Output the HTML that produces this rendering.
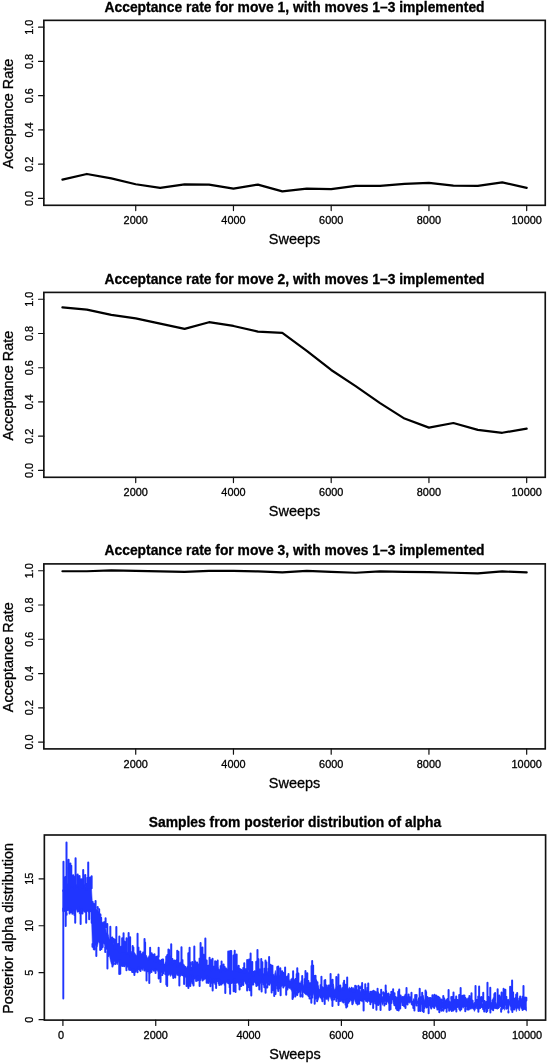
<!DOCTYPE html>
<html><head><meta charset="utf-8"><style>
html,body{margin:0;padding:0;background:#fff;}
svg{display:block;will-change:transform;}
text{font-family:"Liberation Sans", sans-serif;fill:#000;stroke:#000;stroke-width:0.3px;}
</style></head><body>
<svg width="547" height="1063" viewBox="0 0 547 1063">

<g>
<rect width="547" height="1063" fill="#fff"/>
<text x="294.55" y="11.85" font-weight="bold" font-size="13.85" text-anchor="middle">Acceptance rate for move 1, with moves 1–3 implemented</text>
<rect x="43.85" y="20.35" width="501.4" height="184.95" fill="none" stroke="#111" stroke-width="1.65"/>
<path d="M38.55 198.45H43.85M38.55 164.2H43.85M38.55 129.95H43.85M38.55 95.7H43.85M38.55 61.45H43.85M38.55 27.2H43.85M135.72 205.3V210.6M233.46 205.3V210.6M331.2 205.3V210.6M428.94 205.3V210.6M526.68 205.3V210.6" stroke="#111" stroke-width="1.2" fill="none" stroke-linecap="round"/>
<text transform="translate(33.2 198.45) rotate(-90)" font-size="10.9" text-anchor="middle">0.0</text>
<text transform="translate(33.2 164.2) rotate(-90)" font-size="10.9" text-anchor="middle">0.2</text>
<text transform="translate(33.2 129.95) rotate(-90)" font-size="10.9" text-anchor="middle">0.4</text>
<text transform="translate(33.2 95.7) rotate(-90)" font-size="10.9" text-anchor="middle">0.6</text>
<text transform="translate(33.2 61.45) rotate(-90)" font-size="10.9" text-anchor="middle">0.8</text>
<text transform="translate(33.2 27.2) rotate(-90)" font-size="10.9" text-anchor="middle">1.0</text>
<text x="135.72" y="224.2" font-size="10.9" text-anchor="middle">2000</text>
<text x="233.46" y="224.2" font-size="10.9" text-anchor="middle">4000</text>
<text x="331.2" y="224.2" font-size="10.9" text-anchor="middle">6000</text>
<text x="428.94" y="224.2" font-size="10.9" text-anchor="middle">8000</text>
<text x="526.68" y="224.2" font-size="10.9" text-anchor="middle">10000</text>
<text x="294.55" y="244.2" font-size="14.45" text-anchor="middle">Sweeps</text>
<text transform="translate(12.8 113.62) rotate(-90)" font-size="14.45" text-anchor="middle">Acceptance Rate</text>
<polyline points="62.42,179.61 86.86,173.96 111.29,178.41 135.72,184.24 160.16,187.83 184.59,184.41 209.03,184.58 233.46,188.69 257.9,184.58 282.33,191.43 306.77,188.69 331.2,189.2 355.64,185.95 380.07,185.95 404.51,183.89 428.94,182.87 453.38,185.61 477.81,185.95 502.24,182.35 526.68,187.83" fill="none" stroke="#000" stroke-width="2.2" stroke-linejoin="round" stroke-linecap="round"/>
<text x="294.55" y="283.9" font-weight="bold" font-size="13.85" text-anchor="middle">Acceptance rate for move 2, with moves 1–3 implemented</text>
<rect x="43.85" y="292.4" width="501.4" height="184.9" fill="none" stroke="#111" stroke-width="1.65"/>
<path d="M38.55 470.45H43.85M38.55 436.21H43.85M38.55 401.97H43.85M38.55 367.73H43.85M38.55 333.49H43.85M38.55 299.25H43.85M135.72 477.3V482.6M233.46 477.3V482.6M331.2 477.3V482.6M428.94 477.3V482.6M526.68 477.3V482.6" stroke="#111" stroke-width="1.2" fill="none" stroke-linecap="round"/>
<text transform="translate(33.2 470.45) rotate(-90)" font-size="10.9" text-anchor="middle">0.0</text>
<text transform="translate(33.2 436.21) rotate(-90)" font-size="10.9" text-anchor="middle">0.2</text>
<text transform="translate(33.2 401.97) rotate(-90)" font-size="10.9" text-anchor="middle">0.4</text>
<text transform="translate(33.2 367.73) rotate(-90)" font-size="10.9" text-anchor="middle">0.6</text>
<text transform="translate(33.2 333.49) rotate(-90)" font-size="10.9" text-anchor="middle">0.8</text>
<text transform="translate(33.2 299.25) rotate(-90)" font-size="10.9" text-anchor="middle">1.0</text>
<text x="135.72" y="496.2" font-size="10.9" text-anchor="middle">2000</text>
<text x="233.46" y="496.2" font-size="10.9" text-anchor="middle">4000</text>
<text x="331.2" y="496.2" font-size="10.9" text-anchor="middle">6000</text>
<text x="428.94" y="496.2" font-size="10.9" text-anchor="middle">8000</text>
<text x="526.68" y="496.2" font-size="10.9" text-anchor="middle">10000</text>
<text x="294.55" y="516.2" font-size="14.45" text-anchor="middle">Sweeps</text>
<text transform="translate(12.8 385.65) rotate(-90)" font-size="14.45" text-anchor="middle">Acceptance Rate</text>
<polyline points="62.42,307.47 86.86,309.69 111.29,314.83 135.72,318.42 160.16,323.56 184.59,328.87 209.03,322.19 233.46,325.96 257.9,331.61 282.33,332.8 306.77,350.78 331.2,369.96 355.64,386.05 380.07,403.17 404.51,418.58 428.94,427.65 453.38,423.03 477.81,429.88 502.24,432.79 526.68,428.68" fill="none" stroke="#000" stroke-width="2.2" stroke-linejoin="round" stroke-linecap="round"/>
<text x="294.55" y="555.4" font-weight="bold" font-size="13.85" text-anchor="middle">Acceptance rate for move 3, with moves 1–3 implemented</text>
<rect x="43.85" y="563.9" width="501.4" height="185" fill="none" stroke="#111" stroke-width="1.65"/>
<path d="M38.55 742.05H43.85M38.55 707.79H43.85M38.55 673.53H43.85M38.55 639.27H43.85M38.55 605.01H43.85M38.55 570.75H43.85M135.72 748.9V754.2M233.46 748.9V754.2M331.2 748.9V754.2M428.94 748.9V754.2M526.68 748.9V754.2" stroke="#111" stroke-width="1.2" fill="none" stroke-linecap="round"/>
<text transform="translate(33.2 742.05) rotate(-90)" font-size="10.9" text-anchor="middle">0.0</text>
<text transform="translate(33.2 707.79) rotate(-90)" font-size="10.9" text-anchor="middle">0.2</text>
<text transform="translate(33.2 673.53) rotate(-90)" font-size="10.9" text-anchor="middle">0.4</text>
<text transform="translate(33.2 639.27) rotate(-90)" font-size="10.9" text-anchor="middle">0.6</text>
<text transform="translate(33.2 605.01) rotate(-90)" font-size="10.9" text-anchor="middle">0.8</text>
<text transform="translate(33.2 570.75) rotate(-90)" font-size="10.9" text-anchor="middle">1.0</text>
<text x="135.72" y="767.8" font-size="10.9" text-anchor="middle">2000</text>
<text x="233.46" y="767.8" font-size="10.9" text-anchor="middle">4000</text>
<text x="331.2" y="767.8" font-size="10.9" text-anchor="middle">6000</text>
<text x="428.94" y="767.8" font-size="10.9" text-anchor="middle">8000</text>
<text x="526.68" y="767.8" font-size="10.9" text-anchor="middle">10000</text>
<text x="294.55" y="787.8" font-size="14.45" text-anchor="middle">Sweeps</text>
<text transform="translate(12.8 657.2) rotate(-90)" font-size="14.45" text-anchor="middle">Acceptance Rate</text>
<polyline points="62.42,571.25 86.86,571.25 111.29,570.45 135.72,570.95 160.16,571.45 184.59,571.95 209.03,570.95 233.46,570.95 257.9,571.45 282.33,572.45 306.77,570.95 331.2,571.95 355.64,572.75 380.07,571.45 404.51,571.95 428.94,572.15 453.38,572.75 477.81,573.45 502.24,571.45 526.68,572.45" fill="none" stroke="#000" stroke-width="2.2" stroke-linejoin="round" stroke-linecap="round"/>
<text x="294.98" y="826.5" font-weight="bold" font-size="13.85" text-anchor="middle">Samples from posterior distribution of alpha</text>
<rect x="44.35" y="835.0" width="501.25" height="185.1" fill="none" stroke="#111" stroke-width="1.65"/>
<path d="M39.05 1019.65H44.35M39.05 972.7H44.35M39.05 925.75H44.35M39.05 878.8H44.35M62.91 1020.1V1025.4M155.74 1020.1V1025.4M248.56 1020.1V1025.4M341.39 1020.1V1025.4M434.21 1020.1V1025.4M527.04 1020.1V1025.4" stroke="#111" stroke-width="1.2" fill="none" stroke-linecap="round"/>
<text transform="translate(33.2 1019.65) rotate(-90)" font-size="10.9" text-anchor="middle">0</text>
<text transform="translate(33.2 972.7) rotate(-90)" font-size="10.9" text-anchor="middle">5</text>
<text transform="translate(33.2 925.75) rotate(-90)" font-size="10.9" text-anchor="middle">10</text>
<text transform="translate(33.2 878.8) rotate(-90)" font-size="10.9" text-anchor="middle">15</text>
<text x="60.91" y="1039" font-size="10.9" text-anchor="middle">0</text>
<text x="155.74" y="1039" font-size="10.9" text-anchor="middle">2000</text>
<text x="248.56" y="1039" font-size="10.9" text-anchor="middle">4000</text>
<text x="341.39" y="1039" font-size="10.9" text-anchor="middle">6000</text>
<text x="434.21" y="1039" font-size="10.9" text-anchor="middle">8000</text>
<text x="527.04" y="1039" font-size="10.9" text-anchor="middle">10000</text>
<text x="294.98" y="1059" font-size="14.45" text-anchor="middle">Sweeps</text>
<text transform="translate(12.8 928.35) rotate(-90)" font-size="14.45" text-anchor="middle">Posterior alpha distribution</text>
<path d="M63.40 909.5L63.40 890.3L64.40 885.6L65.40 885.1L66.40 886.0L67.40 886.1L68.40 887.4L69.40 886.4L70.40 884.1L71.40 882.1L72.40 885.8L73.40 884.3L74.40 887.5L75.40 883.3L76.40 885.6L77.40 884.2L78.40 884.0L79.40 887.9L80.40 885.6L81.40 885.0L82.40 886.5L83.40 884.1L84.40 884.8L85.40 884.3L86.40 888.4L87.40 885.8L88.40 886.3L89.40 887.1L90.40 885.0L91.40 887.2L92.40 904.4L93.40 907.7L94.40 907.4L95.40 906.3L96.40 909.7L97.40 907.3L98.40 913.0L99.40 912.5L100.40 915.1L101.40 918.8L102.40 923.4L103.40 921.7L104.40 924.1L105.40 926.0L106.40 933.1L107.40 932.9L108.40 934.9L109.40 939.6L110.40 939.0L111.40 937.1L112.40 940.9L113.40 941.2L114.40 947.5L115.40 943.5L116.40 947.5L117.40 947.6L118.40 949.0L119.40 951.1L120.40 951.7L121.40 950.9L122.40 950.1L123.40 951.0L124.40 950.5L125.40 950.7L126.40 952.4L127.40 952.0L128.40 953.0L129.40 952.0L130.40 955.5L131.40 951.6L132.40 951.5L133.40 954.9L134.40 952.5L135.40 954.1L136.40 955.7L137.40 954.3L138.40 954.2L139.40 956.5L140.40 955.8L141.40 954.7L142.40 954.0L143.40 955.5L144.40 953.8L145.40 955.3L146.40 955.3L147.40 957.7L148.40 958.7L149.40 956.8L150.40 957.4L151.40 956.6L152.40 956.5L153.40 958.2L154.40 960.1L155.40 960.2L156.40 960.5L157.40 959.4L158.40 955.7L159.40 961.6L160.40 962.4L161.40 961.9L162.40 962.1L163.40 962.5L164.40 965.2L165.40 961.7L166.40 963.8L167.40 962.8L168.40 962.8L169.40 961.7L170.40 961.5L171.40 960.5L172.40 963.3L173.40 962.1L174.40 960.9L175.40 961.7L176.40 961.3L177.40 965.8L178.40 963.1L179.40 963.8L180.40 961.9L181.40 962.4L182.40 965.8L183.40 963.9L184.40 964.8L185.40 967.5L186.40 968.1L187.40 966.1L188.40 965.9L189.40 965.7L190.40 965.1L191.40 968.9L192.40 964.0L193.40 965.9L194.40 963.2L195.40 964.4L196.40 967.1L197.40 967.2L198.40 967.1L199.40 966.1L200.40 965.6L201.40 965.9L202.40 966.2L203.40 968.6L204.40 969.2L205.40 967.7L206.40 966.2L207.40 965.7L208.40 967.7L209.40 966.9L210.40 964.5L211.40 969.5L212.40 967.4L213.40 967.0L214.40 966.2L215.40 966.3L216.40 969.1L217.40 966.3L218.40 968.0L219.40 968.9L220.40 970.8L221.40 969.0L222.40 968.0L223.40 967.5L224.40 969.6L225.40 969.9L226.40 967.7L227.40 969.3L228.40 968.3L229.40 966.0L230.40 967.0L231.40 969.9L232.40 971.0L233.40 969.9L234.40 968.5L235.40 967.8L236.40 969.9L237.40 969.7L238.40 966.8L239.40 970.5L240.40 968.5L241.40 970.8L242.40 970.7L243.40 971.1L244.40 971.8L245.40 971.3L246.40 968.7L247.40 968.9L248.40 972.2L249.40 971.5L250.40 968.4L251.40 967.9L252.40 972.5L253.40 974.7L254.40 972.7L255.40 971.1L256.40 972.1L257.40 967.5L258.40 970.3L259.40 973.6L260.40 973.5L261.40 969.0L262.40 974.2L263.40 973.4L264.40 974.1L265.40 972.5L266.40 972.9L267.40 971.4L268.40 973.7L269.40 974.7L270.40 972.0L271.40 974.1L272.40 972.9L273.40 975.4L274.40 975.5L275.40 970.5L276.40 975.2L277.40 976.4L278.40 974.3L279.40 975.2L280.40 975.6L281.40 974.4L282.40 976.3L283.40 979.3L284.40 977.9L285.40 979.9L286.40 979.4L287.40 980.1L288.40 978.7L289.40 980.1L290.40 982.3L291.40 981.8L292.40 980.4L293.40 979.1L294.40 979.1L295.40 981.3L296.40 981.9L297.40 978.7L298.40 982.2L299.40 982.8L300.40 983.0L301.40 982.1L302.40 986.8L303.40 984.9L304.40 981.8L305.40 983.1L306.40 985.8L307.40 985.7L308.40 985.5L309.40 985.5L310.40 985.6L311.40 985.6L312.40 985.0L313.40 987.8L314.40 982.9L315.40 986.3L316.40 989.4L317.40 986.3L318.40 985.6L319.40 990.5L320.40 989.2L321.40 987.3L322.40 986.6L323.40 987.2L324.40 987.0L325.40 987.2L326.40 986.5L327.40 988.5L328.40 986.8L329.40 984.8L330.40 985.7L331.40 987.7L332.40 986.1L333.40 983.9L334.40 990.1L335.40 988.5L336.40 987.0L337.40 987.0L338.40 988.6L339.40 989.9L340.40 986.8L341.40 988.5L342.40 986.9L343.40 988.4L344.40 986.1L345.40 985.0L346.40 988.0L347.40 987.8L348.40 989.0L349.40 986.9L350.40 990.1L351.40 988.1L352.40 990.4L353.40 987.5L354.40 990.4L355.40 988.0L356.40 988.6L357.40 990.1L358.40 986.1L359.40 987.4L360.40 992.2L361.40 987.2L362.40 989.0L363.40 990.9L364.40 992.5L365.40 989.7L366.40 990.9L367.40 989.2L368.40 990.6L369.40 993.0L370.40 992.2L371.40 991.8L372.40 992.8L373.40 992.6L374.40 992.9L375.40 992.3L376.40 991.6L377.40 994.4L378.40 991.8L379.40 995.4L380.40 997.3L381.40 996.6L382.40 998.1L383.40 993.1L384.40 995.4L385.40 993.9L386.40 994.3L387.40 993.0L388.40 994.0L389.40 997.5L390.40 997.5L391.40 998.5L392.40 998.6L393.40 998.3L394.40 996.1L395.40 997.3L396.40 998.7L397.40 999.6L398.40 997.1L399.40 997.0L400.40 997.1L401.40 1000.3L402.40 998.8L403.40 997.5L404.40 996.8L405.40 998.7L406.40 995.5L407.40 997.8L408.40 997.3L409.40 997.4L410.40 998.6L411.40 999.0L412.40 1003.1L413.40 998.6L414.40 999.6L415.40 997.3L416.40 996.1L417.40 1000.5L418.40 1001.8L419.40 997.3L420.40 998.7L421.40 1000.6L422.40 999.1L423.40 995.3L424.40 1000.6L425.40 998.9L426.40 1000.3L427.40 997.7L428.40 1000.6L429.40 1000.9L430.40 998.3L431.40 1000.2L432.40 998.5L433.40 998.8L434.40 998.2L435.40 999.0L436.40 998.7L437.40 1001.6L438.40 999.5L439.40 998.2L440.40 1002.1L441.40 1000.9L442.40 1001.6L443.40 1000.1L444.40 1001.3L445.40 1000.1L446.40 998.9L447.40 1000.6L448.40 1000.7L449.40 1000.8L450.40 1001.9L451.40 998.0L452.40 1001.2L453.40 999.6L454.40 1000.4L455.40 1001.6L456.40 1001.1L457.40 1000.0L458.40 1002.3L459.40 1001.1L460.40 1002.7L461.40 1003.2L462.40 1000.9L463.40 999.8L464.40 1001.7L465.40 1002.9L466.40 1002.2L467.40 999.9L468.40 999.2L469.40 1000.4L470.40 1000.5L471.40 1003.0L472.40 1002.2L473.40 1003.5L474.40 1002.1L475.40 1004.8L476.40 1002.2L477.40 1002.9L478.40 1001.4L479.40 1002.6L480.40 1003.5L481.40 1003.0L482.40 1003.7L483.40 1000.7L484.40 1002.3L485.40 1004.1L486.40 1001.9L487.40 1001.1L488.40 1001.0L489.40 1000.5L490.40 1001.4L491.40 1003.2L492.40 1001.7L493.40 1000.9L494.40 999.7L495.40 999.1L496.40 1004.4L497.40 1000.0L498.40 1000.8L499.40 999.8L500.40 1000.7L501.40 999.8L502.40 1000.5L503.40 1002.5L504.40 999.1L505.40 1000.9L506.40 1000.0L507.40 1001.1L508.40 998.9L509.40 1000.5L510.40 998.3L511.40 996.9L512.40 997.7L513.40 998.3L514.40 998.0L515.40 999.2L516.40 1001.4L517.40 998.0L518.40 1000.4L519.40 999.9L520.40 998.6L521.40 998.2L522.40 1000.3L523.40 1000.4L524.40 999.1L525.40 999.4L526.40 999.6L526.40 1011.2L525.40 1008.4L524.40 1006.4L523.40 1009.0L522.40 1010.0L521.40 1007.1L520.40 1006.5L519.40 1011.0L518.40 1008.8L517.40 1007.3L516.40 1011.6L515.40 1008.0L514.40 1008.9L513.40 1009.6L512.40 1009.6L511.40 1007.2L510.40 1006.5L509.40 1004.5L508.40 1012.5L507.40 1005.9L506.40 1008.3L505.40 1004.8L504.40 1010.3L503.40 1007.3L502.40 1009.6L501.40 1010.0L500.40 1004.7L499.40 1008.0L498.40 1007.9L497.40 1009.4L496.40 1006.1L495.40 1008.0L494.40 1007.5L493.40 1010.1L492.40 1008.7L491.40 1008.0L490.40 1011.1L489.40 1007.9L488.40 1006.4L487.40 1010.6L486.40 1009.8L485.40 1007.9L484.40 1010.1L483.40 1008.2L482.40 1008.0L481.40 1006.4L480.40 1007.2L479.40 1009.2L478.40 1010.0L477.40 1007.3L476.40 1006.8L475.40 1009.4L474.40 1011.4L473.40 1008.5L472.40 1008.3L471.40 1009.1L470.40 1006.4L469.40 1010.1L468.40 1010.3L467.40 1009.0L466.40 1005.9L465.40 1009.8L464.40 1006.0L463.40 1008.2L462.40 1007.3L461.40 1009.1L460.40 1010.0L459.40 1008.8L458.40 1007.5L457.40 1006.5L456.40 1010.4L455.40 1009.5L454.40 1009.9L453.40 1009.4L452.40 1008.0L451.40 1006.8L450.40 1009.0L449.40 1006.8L448.40 1006.5L447.40 1006.2L446.40 1007.5L445.40 1009.0L444.40 1007.6L443.40 1010.4L442.40 1008.3L441.40 1008.4L440.40 1005.4L439.40 1009.0L438.40 1007.2L437.40 1008.8L436.40 1007.4L435.40 1006.1L434.40 1008.0L433.40 1005.8L432.40 1006.1L431.40 1006.8L430.40 1007.9L429.40 1004.7L428.40 1006.1L427.40 1007.7L426.40 1005.8L425.40 1005.7L424.40 1006.9L423.40 1004.9L422.40 1007.2L421.40 1005.1L420.40 1004.0L419.40 1009.7L418.40 1006.7L417.40 1003.1L416.40 1002.7L415.40 1004.1L414.40 1003.7L413.40 1006.2L412.40 1005.4L411.40 1005.0L410.40 1001.4L409.40 1003.3L408.40 1002.4L407.40 1003.2L406.40 1004.1L405.40 1003.3L404.40 1005.8L403.40 1004.5L402.40 1001.6L401.40 1002.7L400.40 1006.6L399.40 1004.3L398.40 1004.8L397.40 1003.7L396.40 1002.3L395.40 1003.1L394.40 1004.8L393.40 1004.0L392.40 998.5L391.40 1002.4L390.40 1002.5L389.40 1004.4L388.40 1003.2L387.40 1001.8L386.40 1002.7L385.40 999.0L384.40 1004.4L383.40 1002.6L382.40 1005.3L381.40 1002.0L380.40 1002.5L379.40 1004.6L378.40 1002.9L377.40 1000.1L376.40 1003.4L375.40 1002.6L374.40 1002.1L373.40 1003.7L372.40 1002.1L371.40 1003.1L370.40 1002.1L369.40 1001.9L368.40 1000.3L367.40 1002.8L366.40 1000.2L365.40 1000.2L364.40 1000.0L363.40 1000.0L362.40 1002.1L361.40 1001.3L360.40 1000.9L359.40 1001.3L358.40 1001.1L357.40 1001.1L356.40 1000.9L355.40 1002.0L354.40 999.1L353.40 1003.6L352.40 1003.8L351.40 1001.5L350.40 999.9L349.40 1000.8L348.40 1002.4L347.40 1000.7L346.40 1001.9L345.40 1001.0L344.40 1000.5L343.40 1001.7L342.40 1001.1L341.40 1000.5L340.40 1000.5L339.40 1001.2L338.40 1002.0L337.40 998.8L336.40 1000.5L335.40 997.9L334.40 998.1L333.40 997.5L332.40 1000.8L331.40 1000.6L330.40 997.4L329.40 996.7L328.40 1001.4L327.40 998.6L326.40 998.6L325.40 999.1L324.40 1000.2L323.40 997.3L322.40 1000.5L321.40 998.2L320.40 996.9L319.40 996.3L318.40 999.5L317.40 1001.2L316.40 998.2L315.40 995.0L314.40 998.7L313.40 993.5L312.40 997.2L311.40 999.1L310.40 995.5L309.40 997.1L308.40 995.3L307.40 994.3L306.40 994.9L305.40 994.6L304.40 993.5L303.40 992.5L302.40 995.7L301.40 990.5L300.40 992.3L299.40 989.1L298.40 990.5L297.40 993.7L296.40 992.0L295.40 990.8L294.40 991.0L293.40 989.2L292.40 992.0L291.40 990.5L290.40 988.8L289.40 988.5L288.40 987.8L287.40 989.4L286.40 989.1L285.40 986.1L284.40 986.4L283.40 986.8L282.40 985.8L281.40 986.7L280.40 987.7L279.40 984.2L278.40 986.3L277.40 984.9L276.40 982.5L275.40 983.7L274.40 984.6L273.40 983.6L272.40 984.4L271.40 982.7L270.40 983.7L269.40 983.7L268.40 982.2L267.40 984.0L266.40 982.7L265.40 987.2L264.40 984.8L263.40 981.8L262.40 979.8L261.40 985.4L260.40 982.7L259.40 983.5L258.40 986.1L257.40 985.9L256.40 984.5L255.40 983.4L254.40 982.2L253.40 983.1L252.40 982.8L251.40 984.9L250.40 984.6L249.40 980.2L248.40 985.8L247.40 985.2L246.40 982.8L245.40 983.6L244.40 980.9L243.40 984.4L242.40 981.6L241.40 981.3L240.40 984.7L239.40 985.9L238.40 983.9L237.40 983.1L236.40 981.9L235.40 986.3L234.40 980.5L233.40 984.1L232.40 981.7L231.40 981.9L230.40 986.1L229.40 983.4L228.40 980.9L227.40 982.9L226.40 982.5L225.40 984.3L224.40 985.5L223.40 981.9L222.40 982.5L221.40 984.0L220.40 982.4L219.40 981.0L218.40 980.6L217.40 980.1L216.40 985.1L215.40 980.6L214.40 982.5L213.40 980.0L212.40 981.4L211.40 981.5L210.40 979.8L209.40 980.9L208.40 980.4L207.40 977.5L206.40 979.8L205.40 979.0L204.40 979.8L203.40 980.2L202.40 980.4L201.40 978.2L200.40 981.0L199.40 978.9L198.40 978.1L197.40 977.4L196.40 978.7L195.40 978.8L194.40 979.2L193.40 978.5L192.40 976.7L191.40 980.9L190.40 976.2L189.40 978.6L188.40 978.5L187.40 978.2L186.40 978.8L185.40 975.6L184.40 977.1L183.40 976.4L182.40 974.5L181.40 975.1L180.40 976.6L179.40 975.6L178.40 975.8L177.40 974.7L176.40 973.7L175.40 976.5L174.40 975.6L173.40 975.0L172.40 976.4L171.40 974.3L170.40 976.5L169.40 974.3L168.40 975.6L167.40 973.6L166.40 974.5L165.40 974.2L164.40 971.7L163.40 972.0L162.40 973.2L161.40 972.2L160.40 976.2L159.40 975.7L158.40 972.5L157.40 970.7L156.40 970.6L155.40 970.0L154.40 971.5L153.40 971.3L152.40 969.9L151.40 970.7L150.40 973.5L149.40 974.5L148.40 972.5L147.40 971.3L146.40 972.1L145.40 970.7L144.40 970.0L143.40 968.6L142.40 970.6L141.40 969.1L140.40 969.5L139.40 970.7L138.40 968.6L137.40 970.5L136.40 970.5L135.40 971.6L134.40 971.9L133.40 969.9L132.40 970.6L131.40 971.1L130.40 969.6L129.40 969.0L128.40 968.0L127.40 965.5L126.40 969.0L125.40 966.1L124.40 964.7L123.40 964.4L122.40 965.4L121.40 964.5L120.40 961.2L119.40 961.7L118.40 961.8L117.40 964.7L116.40 961.9L115.40 962.4L114.40 961.2L113.40 964.2L112.40 964.8L111.40 964.0L110.40 960.4L109.40 955.5L108.40 955.8L107.40 953.0L106.40 947.7L105.40 948.3L104.40 944.6L103.40 943.4L102.40 942.7L101.40 944.7L100.40 942.9L99.40 942.9L98.40 941.8L97.40 946.5L96.40 947.8L95.40 945.5L94.40 948.8L93.40 950.0L92.40 944.9L91.40 913.7L90.40 911.0L89.40 911.3L88.40 912.5L87.40 911.5L86.40 912.1L85.40 912.7L84.40 912.2L83.40 911.3L82.40 913.1L81.40 910.6L80.40 912.9L79.40 914.1L78.40 908.1L77.40 912.4L76.40 909.1L75.40 912.2L74.40 911.5L73.40 911.1L72.40 911.5L71.40 910.9L70.40 910.6L69.40 911.7L68.40 910.2L67.40 909.6L66.40 914.2L65.40 912.0L64.40 911.7L63.40 909.5Z" fill="#2035ff" stroke="#2035ff" stroke-width="0.6" stroke-linejoin="round"/>
<path d="M63.48 891.3V861.8M64.12 886.6V880.5M65.49 886.1V877.0M66.53 887.0V867.1M67.14 887.1V884.2M68.59 888.4V859.7M69.41 887.4V864.6M70.41 885.1V863.4M71.29 883.1V865.7M72.13 886.8V884.0M73.22 885.3V875.2M74.22 888.5V877.3M75.58 884.3V858.3M76.47 886.6V885.2M77.67 885.2V874.4M79.57 888.9V876.0M80.51 886.6V883.9M81.38 886.0V879.2M82.53 887.5V885.9M83.20 885.1V870.0M85.26 885.3V875.1M86.42 889.4V884.3M87.50 886.8V877.8M88.23 887.3V862.6M89.68 888.1V881.1M90.17 886.0V877.5M91.64 888.2V876.2M92.68 905.4V902.0M93.59 908.7V903.7M94.37 908.4V906.8M95.57 907.3V901.0M97.69 908.3V907.0M98.52 914.0V912.2M99.17 913.5V909.3M100.43 916.1V914.6M101.15 919.8V917.7M102.41 924.4V923.2M104.39 925.1V922.2M105.58 927.0V918.3M107.31 933.9V924.1M110.33 940.0V926.8M112.29 941.9V937.5M113.50 942.2V939.1M114.38 948.5V939.5M115.17 944.5V940.0M116.34 948.5V927.0M118.19 950.0V944.0M119.36 952.1V936.4M120.20 952.7V946.9M121.43 951.9V946.4M122.17 951.1V938.3M123.56 952.0V933.2M124.60 951.5V941.7M126.56 953.4V938.3M128.62 954.0V933.0M130.13 956.5V937.2M132.68 952.5V946.1M133.38 955.9V947.5M137.56 955.3V933.8M138.44 955.2V947.5M139.13 957.5V951.6M140.31 956.8V951.4M141.34 955.7V954.3M143.12 956.5V952.6M144.52 954.8V938.9M145.11 956.3V942.5M148.57 959.7V958.1M149.26 957.8V956.3M150.14 958.4V947.7M151.65 957.6V953.3M152.50 957.5V954.4M153.56 959.2V957.9M154.50 961.1V954.3M155.52 961.2V959.6M156.14 961.5V957.1M157.18 960.4V956.6M158.63 956.7V947.8M159.28 962.6V960.6M160.47 963.4V961.0M161.53 962.9V960.1M162.41 963.1V959.5M163.14 963.5V959.4M164.45 966.2V965.1M166.28 964.8V956.7M167.37 963.8V955.0M168.44 963.8V949.6M169.12 962.7V949.9M170.33 962.5V956.3M171.22 961.5V944.3M172.40 964.3V959.0M174.36 961.9V960.6M175.38 962.7V961.6M176.20 962.3V960.5M177.25 966.8V950.7M178.44 964.1V951.8M179.47 964.8V963.4M181.48 963.4V947.2M182.44 966.8V959.9M185.41 968.5V967.1M188.32 966.9V953.3M189.59 966.7V947.7M190.21 966.1V962.4M191.21 969.9V967.6M192.27 965.0V962.0M193.40 966.9V964.4M194.32 964.2V946.5M195.23 965.4V961.2M196.15 968.1V964.3M197.14 968.2V962.4M198.64 968.1V964.3M199.58 967.1V958.6M200.57 966.6V943.0M201.48 966.9V949.3M202.44 967.2V947.4M203.38 969.6V954.6M204.51 970.2V968.8M205.36 968.7V938.6M206.63 967.2V960.5M208.38 968.7V965.8M209.57 967.9V957.8M210.44 965.5V960.0M211.55 970.5V960.0M212.54 968.4V958.8M213.33 968.0V966.4M215.14 967.3V961.2M216.33 970.1V961.9M217.67 967.3V960.4M220.62 971.8V966.0M221.57 970.0V961.6M223.61 968.5V964.6M224.69 970.6V967.1M225.30 970.9V968.4M228.26 969.3V951.5M229.25 967.0V959.1M230.15 968.0V950.9M231.23 970.9V951.0M233.55 970.9V955.5M234.70 969.5V950.8M235.10 968.8V961.5M236.65 970.9V954.4M237.64 970.7V967.6M238.69 967.8V965.8M239.40 971.5V968.7M241.23 971.8V969.7M243.25 972.1V967.9M244.26 972.8V963.3M245.35 972.3V969.2M247.18 969.9V960.1M249.12 972.5V959.4M250.60 969.4V953.4M252.25 973.5V962.0M253.56 975.7V972.0M254.68 973.7V971.2M256.27 973.1V961.8M257.47 968.5V949.9M258.53 971.3V959.2M259.61 974.6V971.4M260.34 974.5V969.3M261.26 970.0V959.1M262.34 975.2V962.3M264.62 975.1V968.6M265.50 973.5V960.5M266.42 973.9V962.3M268.68 974.7V968.6M269.12 975.7V957.0M270.65 973.0V964.8M271.28 975.1V968.6M272.40 973.9V965.7M273.37 976.4V974.9M277.29 977.4V967.1M278.23 975.3V966.5M280.30 976.6V968.2M281.41 975.4V973.3M282.13 977.3V971.3M283.13 980.3V972.8M284.63 978.9V977.6M285.11 980.9V967.6M286.16 980.4V977.4M287.31 981.1V976.4M288.51 979.7V974.0M290.43 983.3V981.2M291.35 982.8V979.4M292.34 981.4V978.6M293.13 980.1V971.3M295.62 982.3V979.0M296.70 982.9V974.1M297.27 979.7V968.2M298.37 983.2V973.4M301.54 983.1V981.2M302.21 987.8V975.9M304.65 982.8V979.1M305.46 984.1V971.0M306.20 986.8V984.9M307.31 986.7V973.3M308.36 986.5V981.1M309.52 986.5V983.6M310.60 986.6V983.1M311.58 986.6V965.9M312.17 986.0V960.9M313.15 988.8V965.5M314.49 983.9V976.1M315.52 987.3V975.7M316.15 990.4V980.3M317.41 987.3V982.3M319.55 991.5V990.2M320.62 990.2V985.1M321.43 988.3V976.7M324.53 988.0V980.5M325.25 988.2V980.0M326.55 987.5V985.6M327.32 989.5V987.4M328.70 987.8V985.6M330.57 986.7V974.0M332.57 987.1V979.8M336.32 988.0V977.0M337.68 988.0V986.7M338.41 989.6V974.4M339.31 990.9V989.0M340.25 987.8V985.6M343.52 989.4V982.9M344.12 987.1V980.7M345.55 986.0V984.8M346.12 989.0V986.4M347.19 988.8V977.6M350.13 991.1V989.1M351.68 989.1V987.8M352.67 991.4V988.9M354.53 991.4V989.6M355.19 989.0V985.7M356.12 989.6V986.2M358.40 987.1V985.8M359.56 988.4V987.3M361.32 988.2V986.3M362.14 990.0V983.1M363.20 991.9V989.9M364.35 993.5V992.2M365.26 990.7V984.3M367.47 990.2V987.7M368.26 991.6V983.6M370.43 993.2V991.8M371.68 992.8V991.8M372.38 993.8V991.7M373.45 993.6V990.7M374.69 993.9V991.4M375.32 993.3V992.1M377.57 995.4V988.7M379.32 996.4V994.6M381.17 997.6V989.8M382.28 999.1V997.6M383.27 994.1V992.2M384.58 996.4V993.5M385.68 994.9V985.4M386.10 995.3V990.9M388.49 995.0V993.5M389.27 998.5V996.6M390.59 998.5V994.8M391.34 999.5V991.8M393.13 999.3V989.3M394.51 997.1V993.2M395.68 998.3V996.9M396.43 999.7V998.6M397.68 1000.6V997.6M398.23 998.1V991.7M399.23 998.0V989.6M400.61 998.1V995.6M401.30 1001.3V999.1M402.51 999.8V996.9M404.34 997.8V996.5M405.53 999.7V994.5M406.51 996.5V988.0M407.69 998.8V997.2M408.63 998.3V994.6M409.53 998.4V997.1M410.31 999.6V997.8M411.47 1000.0V992.8M412.26 1004.1V1001.8M415.20 998.3V994.9M416.58 997.1V995.0M418.68 1002.8V998.5M419.69 998.3V988.8M420.40 999.7V997.0M422.18 1000.1V992.7M425.55 999.9V990.6M426.10 1001.3V992.0M427.37 998.7V997.0M428.50 1001.6V1000.6M429.21 1001.9V998.0M430.47 999.3V998.0M432.43 999.5V995.3M434.47 999.2V994.7M436.12 999.7V995.5M437.62 1002.6V996.5M438.61 1000.5V997.0M439.65 999.2V998.0M440.16 1003.1V999.7M441.29 1001.9V999.5M443.30 1001.1V996.1M444.18 1002.3V998.3M447.68 1001.6V998.8M448.58 1001.7V990.0M451.30 999.0V997.0M452.47 1002.2V997.0M453.51 1000.6V992.5M455.47 1002.6V999.6M456.19 1002.1V996.6M457.13 1001.0V999.7M458.58 1003.3V1000.1M459.21 1002.1V995.0M460.62 1003.7V987.9M461.67 1004.2V1000.9M462.22 1001.9V996.1M463.27 1000.8V995.6M464.44 1002.7V995.4M465.28 1003.9V997.7M466.14 1003.2V998.9M468.18 1000.2V998.5M469.43 1001.4V996.0M470.21 1001.5V998.9M471.49 1004.0V993.3M472.59 1003.2V1000.8M475.52 1005.8V986.0M476.50 1003.2V999.7M477.49 1003.9V1002.1M478.26 1002.4V996.5M479.14 1003.6V986.5M480.51 1004.5V997.6M481.33 1004.0V996.9M483.24 1001.7V992.8M484.54 1003.3V1001.0M485.54 1005.1V1004.0M486.53 1002.9V1001.7M487.47 1002.1V982.8M488.26 1002.0V996.7M490.28 1002.4V987.8M491.27 1004.2V1003.2M492.61 1002.7V1000.2M493.66 1001.9V998.2M494.37 1000.7V994.0M495.12 1000.1V992.9M497.63 1001.0V989.2M498.67 1001.8V996.7M499.26 1000.8V995.5M500.59 1001.7V997.0M501.56 1000.8V992.4M502.62 1001.5V1000.4M503.60 1003.5V988.7M504.49 1000.1V994.9M505.37 1001.9V989.7M506.35 1001.0V996.8M507.51 1002.1V1000.2M510.15 999.3V986.7M511.27 997.9V992.2M512.11 998.7V980.6M513.14 999.3V992.5M515.14 1000.2V998.4M516.20 1002.4V994.4M517.19 999.0V992.9M519.42 1000.9V998.5M520.13 999.6V996.5M522.59 1001.3V996.5M523.48 1001.4V986.0M525.11 1000.4V997.5M526.32 1000.6V997.8M63.29 908.5V911.0M65.68 911.0V926.0M66.59 913.2V914.7M67.56 908.6V909.9M69.61 910.7V913.6M70.63 909.6V912.1M71.45 909.9V911.8M72.35 910.5V913.7M74.42 910.5V915.0M75.22 911.2V922.7M78.18 907.1V911.2M80.64 911.9V924.0M81.52 909.6V911.9M82.46 912.1V913.4M86.20 911.1V922.8M89.15 910.3V919.2M90.66 910.0V911.0M91.68 912.7V922.7M92.50 943.9V946.7M94.29 947.8V949.5M96.32 946.8V956.0M100.18 941.9V950.1M101.48 943.7V949.0M102.67 941.7V946.9M105.24 947.3V952.1M106.47 946.7V948.6M107.43 952.0V968.4M108.33 954.8V956.1M112.46 963.8V966.6M113.54 963.2V964.6M115.58 961.4V964.0M116.23 960.9V962.7M119.26 960.7V974.0M120.25 960.2V973.8M121.27 963.5V965.4M122.34 964.4V966.0M123.52 963.4V965.2M124.20 963.7V966.3M126.47 968.0V970.2M127.36 964.5V966.5M129.12 968.0V969.7M130.15 968.6V970.0M132.18 969.6V972.0M133.54 968.9V972.2M134.38 970.9V975.0M135.41 970.6V971.7M137.51 969.5V972.3M138.38 967.6V968.9M140.51 968.5V971.0M144.32 969.0V970.5M146.55 971.1V980.6M147.55 970.3V971.3M149.29 973.5V983.0M151.51 969.7V972.0M155.53 969.0V973.0M158.67 971.5V978.4M159.52 974.7V976.2M160.52 975.2V982.0M162.29 972.2V975.1M163.12 971.0V973.3M165.35 973.2V974.2M166.34 973.5V984.4M167.16 972.6V986.1M173.27 974.0V978.0M175.23 975.5V977.6M177.32 973.7V974.7M179.35 974.6V985.5M182.29 973.5V975.3M184.10 976.1V984.1M185.26 974.6V976.6M186.56 977.8V985.9M187.42 977.2V980.6M188.38 977.5V988.0M189.13 977.6V979.0M190.29 975.2V986.0M191.42 979.9V981.6M192.52 975.7V983.6M193.54 977.5V985.5M196.12 977.7V981.0M197.37 976.4V980.4M198.50 977.1V980.0M199.61 977.9V986.1M202.52 979.4V980.4M206.65 978.8V982.8M207.32 976.5V981.2M208.25 979.4V983.0M209.59 979.9V981.2M210.40 978.8V986.3M211.36 980.5V982.7M212.65 980.4V990.5M213.14 979.0V980.1M214.16 981.5V982.6M215.43 979.6V984.3M216.12 984.1V988.1M217.63 979.1V980.9M218.68 979.6V983.3M219.27 980.0V985.0M220.62 981.4V984.4M221.38 983.0V984.5M222.43 981.5V983.2M223.36 980.9V982.6M225.29 983.3V992.9M228.25 979.9V983.2M229.70 982.4V987.6M230.15 985.1V993.8M231.18 980.9V983.1M232.46 980.7V982.6M233.66 983.1V991.3M234.61 979.5V983.2M235.53 985.3V991.9M236.11 980.9V982.7M239.58 984.9V989.6M241.32 980.3V986.1M242.43 980.6V983.1M243.27 983.4V985.0M246.52 981.8V984.0M247.14 984.2V990.6M248.44 984.8V987.1M249.61 979.2V990.3M251.28 983.9V995.5M252.11 981.8V984.4M253.24 982.1V984.6M256.39 983.5V986.0M259.30 982.5V989.4M260.24 981.7V982.8M261.61 984.4V991.4M262.58 978.8V982.7M263.66 980.8V984.4M264.34 983.8V987.3M265.58 986.2V992.8M267.31 983.0V987.4M269.28 982.7V984.8M271.65 981.7V992.5M273.53 982.6V990.3M274.23 983.6V995.9M275.52 982.7V994.0M276.52 981.5V985.2M277.64 983.9V988.7M278.26 985.3V990.9M279.67 983.2V988.2M280.61 986.7V995.3M283.33 985.8V987.5M286.19 988.1V994.7M287.39 988.4V989.5M292.55 991.0V999.1M293.19 988.2V997.4M294.67 990.0V993.5M295.33 989.8V996.6M297.25 992.7V995.0M298.12 989.5V992.4M299.13 988.1V991.5M300.44 991.3V996.6M302.51 994.7V996.7M307.63 993.3V994.8M308.55 994.3V996.0M309.54 996.1V998.4M311.33 998.1V1002.7M312.28 996.2V997.4M314.69 997.7V1003.8M315.15 994.0V998.9M316.62 997.2V998.2M317.15 1000.2V1001.3M320.44 995.9V997.0M321.45 997.2V998.6M322.41 999.5V1001.2M324.68 999.2V1004.0M326.67 997.6V998.8M332.45 999.8V1006.0M333.68 996.5V997.6M334.12 997.1V999.6M336.35 999.5V1000.9M338.51 1001.0V1005.1M340.13 999.5V1001.1M342.33 1000.1V1001.5M343.49 1000.7V1002.5M345.58 1000.0V1004.8M346.26 1000.9V1007.4M347.17 999.7V1006.4M348.45 1001.4V1002.7M349.53 999.8V1001.0M352.37 1002.8V1004.3M356.24 999.9V1003.0M357.50 1000.1V1004.5M359.16 1000.3V1003.8M363.61 999.0V1010.4M366.13 999.2V1001.1M368.56 999.3V1000.5M370.38 1001.1V1004.2M373.15 1002.7V1008.0M375.26 1001.6V1003.4M376.43 1002.4V1009.8M377.14 999.1V1001.7M378.28 1001.9V1004.9M380.55 1001.5V1009.9M384.36 1003.4V1005.4M385.46 998.0V1000.7M386.23 1001.7V1003.9M389.39 1003.4V1009.9M390.53 1001.5V1009.3M391.37 1001.4V1003.1M394.46 1003.8V1005.2M395.42 1002.1V1003.6M396.11 1001.3V1008.5M397.18 1002.7V1009.9M398.66 1003.8V1010.5M399.53 1003.3V1005.9M400.23 1005.6V1008.4M402.50 1000.6V1005.0M404.17 1004.8V1006.2M405.49 1002.3V1008.0M407.52 1002.2V1004.4M410.49 1000.4V1001.5M413.35 1005.2V1008.1M414.43 1002.7V1010.5M416.55 1001.7V1005.4M417.16 1002.1V1003.6M418.50 1005.7V1011.1M420.30 1003.0V1011.0M422.56 1006.2V1011.0M423.69 1003.9V1012.0M424.26 1005.9V1008.3M425.41 1004.7V1006.0M426.49 1004.8V1007.5M428.63 1005.1V1013.3M429.29 1003.7V1005.3M431.24 1005.8V1008.4M433.14 1004.8V1006.8M434.25 1007.0V1008.1M437.37 1007.8V1009.4M438.56 1006.2V1007.6M439.33 1008.0V1012.3M440.26 1004.4V1008.6M441.44 1007.4V1010.7M443.38 1009.4V1010.8M444.50 1006.6V1008.6M446.63 1006.5V1011.8M447.23 1005.2V1006.5M448.36 1005.5V1007.6M449.13 1005.8V1010.8M450.13 1008.0V1009.6M451.69 1005.8V1011.0M452.21 1007.0V1008.1M453.31 1008.4V1010.5M456.35 1009.4V1011.5M457.17 1005.5V1006.9M459.30 1007.8V1008.9M460.20 1009.0V1010.4M461.28 1008.1V1009.2M464.28 1005.0V1006.2M465.28 1008.8V1011.3M466.31 1004.9V1006.2M467.38 1008.0V1009.4M470.31 1005.4V1008.4M473.32 1007.5V1008.6M477.12 1006.3V1008.3M478.39 1009.0V1011.7M480.24 1006.2V1007.9M481.22 1005.4V1006.9M483.19 1007.2V1009.2M484.21 1009.1V1011.6M485.10 1006.9V1008.3M486.39 1008.8V1012.0M487.26 1009.6V1011.1M488.60 1005.4V1008.0M490.37 1010.1V1012.5M491.64 1007.0V1008.7M492.29 1007.7V1009.0M493.14 1009.1V1010.2M494.61 1006.5V1007.7M496.12 1005.1V1008.2M498.12 1006.9V1008.0M500.59 1003.7V1006.0M501.15 1009.0V1011.8M503.42 1006.3V1008.1M506.23 1007.3V1008.8M507.22 1004.9V1008.2M508.42 1011.5V1012.6M511.32 1006.2V1009.7M512.34 1008.6V1012.0M514.14 1007.9V1009.4M517.50 1006.3V1007.6M521.52 1006.1V1007.8M522.60 1009.0V1010.0M523.53 1008.0V1009.1M524.61 1005.4V1008.8M525.36 1007.4V1009.3M66.5 886.0V842.5" fill="none" stroke="#2035ff" stroke-width="2.0" stroke-linecap="round"/>
<path d="M63.3 998.6V890.3" stroke="#2035ff" stroke-width="1.9" stroke-linecap="round"/>
</g>
</svg>
</body></html>
